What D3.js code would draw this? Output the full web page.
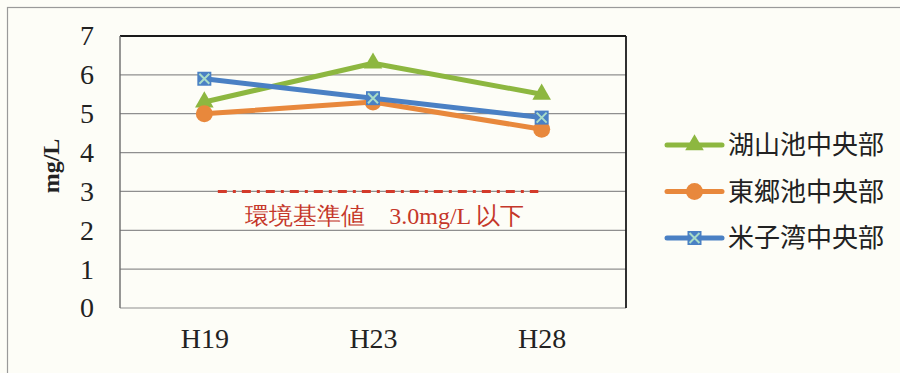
<!DOCTYPE html>
<html>
<head>
<meta charset="utf-8">
<script src="https://cdn.jsdelivr.net/npm/d3@7"></script>
<style>
  body { margin: 0; background: #fdfdf7; }
  svg { display: block; }
</style>
</head>
<body>
<div id="chart"></div>
<script>
const years = ["H19", "H23", "H28"];
const koyamaike = [5.3, 6.3, 5.5];
const togoike = [5.0, 5.3, 4.6];
const yonagowan = [5.9, 5.4, 4.9];
const seriesNames = ["湖山池中央部", "東郷池中央部", "米子湾中央部"];
const yTicks = [0, 1, 2, 3, 4, 5, 6, 7];
const standardValue = 3.0;
const standardLabel = "環境基準値　3.0mg/L  以下";

const width = 900, height = 373;
const margin = {top: 36, right: 274, bottom: 65, left: 120};

const svg = d3.select("#chart").append("svg")
    .attr("width", width)
    .attr("height", height);

// outer frame
svg.append("rect")
    .attr("x", 7.5).attr("y", 7.5)
    .attr("width", width + 20).attr("height", height + 20)
    .attr("fill", "none")
    .attr("stroke", "#9a9a9a")
    .attr("stroke-width", 1.2);

const x = d3.scalePoint()
    .domain(years)
    .range([margin.left, width - margin.right])
    .padding(0.5);

const y = d3.scaleLinear()
    .domain([0, 7])
    .range([height - margin.bottom, margin.top]);

const serif = "'Liberation Serif', 'DejaVu Serif', serif";
const cjk = "'Noto Sans CJK JP', sans-serif";

// gridlines
svg.append("g")
    .selectAll("line")
    .data(yTicks)
    .join("line")
    .attr("x1", margin.left).attr("x2", width - margin.right)
    .attr("y1", d => y(d)).attr("y2", d => y(d))
    .attr("stroke", "#8f8f8f")
    .attr("stroke-width", 1.2);

// plot border: top/right dark, left gray
svg.append("line")
    .attr("x1", margin.left).attr("x2", width - margin.right)
    .attr("y1", y(7)).attr("y2", y(7))
    .attr("stroke", "#1a1a1a").attr("stroke-width", 1.8);
svg.append("line")
    .attr("x1", width - margin.right).attr("x2", width - margin.right)
    .attr("y1", y(7)).attr("y2", y(0))
    .attr("stroke", "#1a1a1a").attr("stroke-width", 1.8);
svg.append("line")
    .attr("x1", margin.left).attr("x2", margin.left)
    .attr("y1", y(7)).attr("y2", y(0))
    .attr("stroke", "#6a6a6a").attr("stroke-width", 1.4);

// y axis
const yAxis = svg.append("g")
    .attr("transform", `translate(${margin.left},0)`)
    .call(d3.axisLeft(y).tickValues(yTicks).tickFormat(d3.format("d")).tickSize(0).tickPadding(26));
yAxis.select(".domain").remove();
yAxis.selectAll("text")
    .attr("font-family", serif)
    .attr("font-size", 28)
    .attr("fill", "#222");

// x axis
const xAxis = svg.append("g")
    .attr("transform", `translate(0,${y(0)})`)
    .call(d3.axisBottom(x).tickSize(0).tickPadding(20));
xAxis.select(".domain").remove();
xAxis.selectAll("text")
    .attr("font-family", serif)
    .attr("font-size", 28)
    .attr("fill", "#222");

// y label
svg.append("text")
    .attr("transform", `translate(59,${(y(0) + y(7)) / 2 - 6}) rotate(-90)`)
    .attr("text-anchor", "middle")
    .attr("font-family", serif)
    .attr("font-weight", "bold")
    .attr("font-size", 24)
    .attr("fill", "#222")
    .text("mg/L");

// standard line (dash-dot)
const xi = d3.scaleLinear().domain([0, years.length - 1]).range([x(years[0]), x(years[years.length - 1])]);
svg.append("line")
    .attr("x1", xi(0.08)).attr("x2", xi(1.98))
    .attr("y1", y(standardValue)).attr("y2", y(standardValue))
    .attr("stroke", "#d33a2a")
    .attr("stroke-width", 3)
    .attr("stroke-dasharray", "9,6,3,6");

svg.append("text")
    .attr("x", xi(1.07))
    .attr("y", y(standardValue) + 33)
    .attr("text-anchor", "middle")
    .attr("font-family", serif)
    .attr("font-size", 24)
    .attr("fill", "#c5372a")
    .text(standardLabel);

const series = [
  {name: seriesNames[0], values: koyamaike, color: "#8db740", marker: "triangle"},
  {name: seriesNames[1], values: togoike, color: "#e8883c", marker: "circle"},
  {name: seriesNames[2], values: yonagowan, color: "#4a80c4", marker: "xsquare"}
];

function drawMarker(g, type, color, cx, cy) {
  if (type === "triangle") {
    g.append("path")
      .attr("d", d3.symbol(d3.symbolTriangle, 150)())
      .attr("transform", `translate(${cx},${cy})`)
      .attr("fill", color);
  } else if (type === "circle") {
    g.append("circle")
      .attr("cx", cx).attr("cy", cy).attr("r", 8.5)
      .attr("fill", color);
  } else {
    const s = 7;
    g.append("rect")
      .attr("x", cx - s).attr("y", cy - s)
      .attr("width", 2 * s).attr("height", 2 * s)
      .attr("fill", color);
    g.append("path")
      .attr("d", `M${cx - s + 2},${cy - s + 2}L${cx + s - 2},${cy + s - 2}M${cx + s - 2},${cy - s + 2}L${cx - s + 2},${cy + s - 2}`)
      .attr("stroke", "#a8dcc8")
      .attr("stroke-width", 2);
  }
}

const line = d3.line()
    .x((d, i) => x(years[i]))
    .y(d => y(d));

series.forEach(s => {
  const g = svg.append("g");
  g.append("path")
    .datum(s.values)
    .attr("d", line)
    .attr("fill", "none")
    .attr("stroke", s.color)
    .attr("stroke-width", 5)
    .attr("stroke-linejoin", "round");
  s.values.forEach((v, i) => drawMarker(g, s.marker, s.color, x(years[i]), y(v)));
});

// legend
const legend = svg.append("g").attr("transform", "translate(667,145)");
series.forEach((s, i) => {
  const g = legend.append("g").attr("transform", `translate(0,${i * 46.5})`);
  g.append("line")
    .attr("x1", 0).attr("x2", 55)
    .attr("y1", 0).attr("y2", 0)
    .attr("stroke", s.color)
    .attr("stroke-width", 5)
    .attr("stroke-linecap", "round");
  drawMarker(g, s.marker, s.color, 27.5, 0);
  g.append("text")
    .attr("x", 61)
    .attr("y", 0)
    .attr("dy", "0.36em")
    .attr("font-family", cjk)
    .attr("font-size", 26)
    .attr("fill", "#222")
    .text(s.name);
});
</script>
</body>
</html>
